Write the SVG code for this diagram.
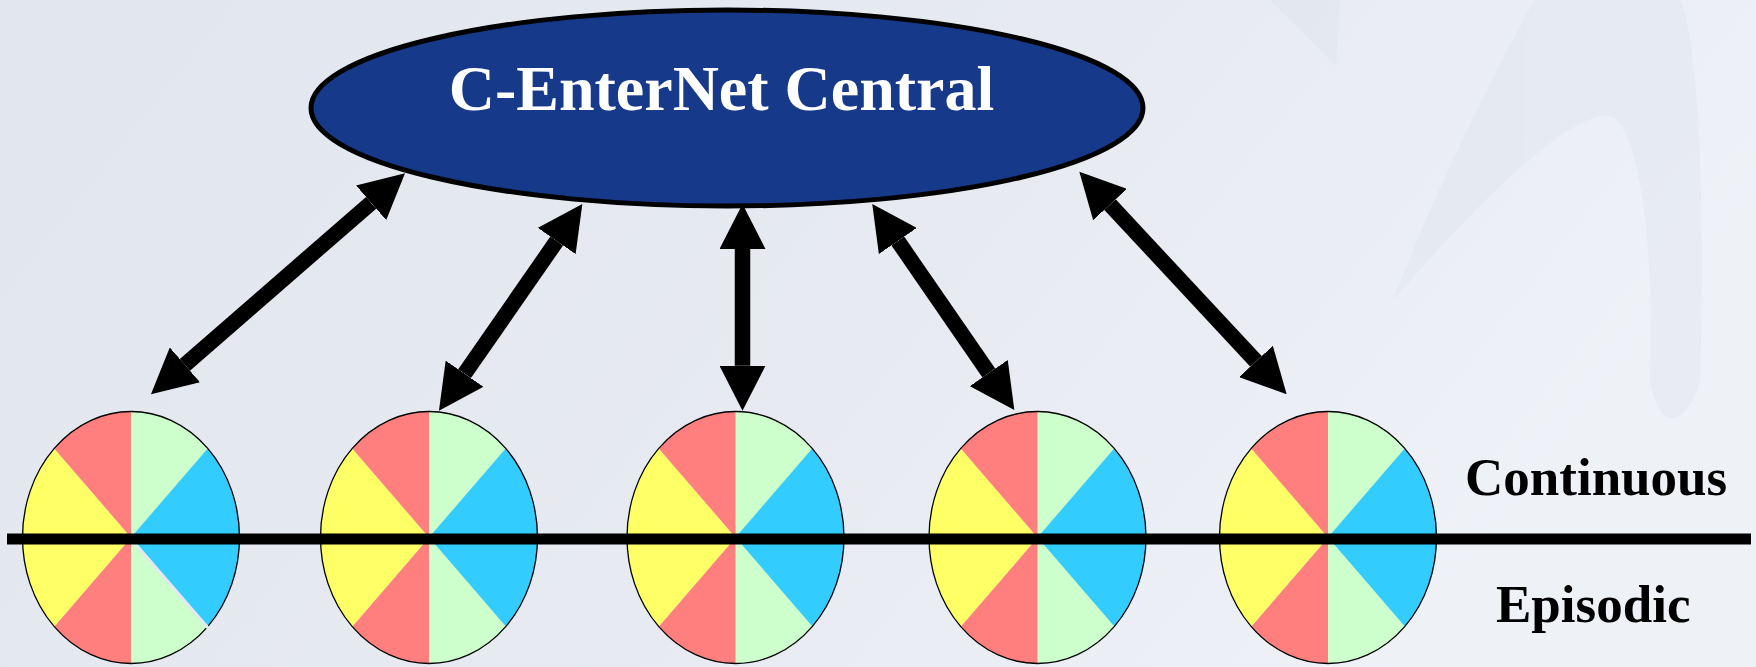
<svg xmlns="http://www.w3.org/2000/svg" width="1756" height="667" viewBox="0 0 1756 667">
  <defs>
    <linearGradient id="bg" x1="0" y1="0" x2="1" y2="0.3">
      <stop offset="0" stop-color="#E2E6EE"/>
      <stop offset="0.6" stop-color="#E7EAF1"/>
      <stop offset="1" stop-color="#EEF1F6"/>
    </linearGradient>
    <marker id="head" markerUnits="userSpaceOnUse" viewBox="0 -23 45 46" refX="0" refY="0" markerWidth="45" markerHeight="46" orient="auto-start-reverse">
      <path d="M0,-23 L45,0 L0,23 Z" fill="#000"/>
    </marker>
    <g id="pie">
      <path class="g" d="M0,0 L0,-126 A108.5,126 0 0 1 76.72,-89.1 Z"/>
      <path class="b" d="M0,0 L76.72,-89.1 A108.5,126 0 0 1 76.72,89.1 Z"/>
      <path class="g" d="M0,0 L76.72,89.1 A108.5,126 0 0 1 0,126 Z"/>
      <path class="r" d="M0,0 L0,126 A108.5,126 0 0 1 -76.72,89.1 Z"/>
      <path class="y" d="M0,0 L-76.72,89.1 A108.5,126 0 0 1 -76.72,-89.1 Z"/>
      <path class="r" d="M0,0 L-76.72,-89.1 A108.5,126 0 0 1 0,-126 Z"/>
      <ellipse cx="0" cy="0" rx="108.5" ry="126" fill="none" stroke="#000" stroke-width="1.3"/>
    </g>
  </defs>
  <style>
    .g { fill: #CCFFCC; }
    .b { fill: #33CCFF; }
    .r { fill: #FF7F7F; }
    .y { fill: #FFFF66; }
    .conn { stroke: #000; stroke-width: 15.5; fill: none; marker-start: url(#head); marker-end: url(#head); }
    .lbl { font-family: "Liberation Serif", "Times New Roman", serif; font-weight: bold; }
  </style>

  <rect x="0" y="0" width="1756" height="667" fill="url(#bg)"/>
  <g id="background-swoosh" fill="#DCE2EB" opacity="0.35">
    <path d="M1270,0 L1340,0 L1336,66 Z"/>
    <path d="M1535,0 L1681,0 C1700,60 1705,200 1700,380 C1690,420 1660,440 1650,380 C1655,250 1640,140 1615,118 C1580,100 1480,200 1393,300 C1440,180 1500,60 1535,0 Z"/>
  </g>

  <g id="central">
    <ellipse cx="727" cy="108" rx="416" ry="98" fill="#17398A" stroke="#000" stroke-width="5"/>
    <text class="lbl" x="721.5" y="110" font-size="64" fill="#FFFFFF" text-anchor="middle">C-EnterNet Central</text>
  </g>

  <g id="node-1">
    <use href="#pie" transform="translate(131,537.5)"/>
    <line x1="132" y1="540" x2="209" y2="629" stroke="#E4E8EF" stroke-width="3"/>
  </g>
  <g id="node-2"><use href="#pie" transform="translate(429,537.5)"/></g>
  <g id="node-3"><use href="#pie" transform="translate(735.5,537.5)"/></g>
  <g id="node-4"><use href="#pie" transform="translate(1037.5,537.5)"/></g>
  <g id="node-5"><use href="#pie" transform="translate(1328,537.5)"/></g>

  <g id="divider">
    <line x1="7" y1="539" x2="1751" y2="539" stroke="#000" stroke-width="11"/>
  </g>

  <g id="label-continuous">
    <text class="lbl" x="1465" y="495" font-size="53" fill="#000">Continuous</text>
  </g>
  <g id="label-episodic">
    <text class="lbl" x="1496" y="622" font-size="53" fill="#000">Episodic</text>
  </g>

  <g id="connectors">
    <line class="conn" x1="184.9" y1="364.8" x2="371.1" y2="202.8"/>
    <line class="conn" x1="464.6" y1="373.7" x2="556.7" y2="241"/>
    <line class="conn" x1="742.5" y1="365.7" x2="742.5" y2="249"/>
    <line class="conn" x1="897.8" y1="241" x2="988.8" y2="373"/>
    <line class="conn" x1="1110" y1="204.6" x2="1256" y2="361.4"/>
  </g>
</svg>
